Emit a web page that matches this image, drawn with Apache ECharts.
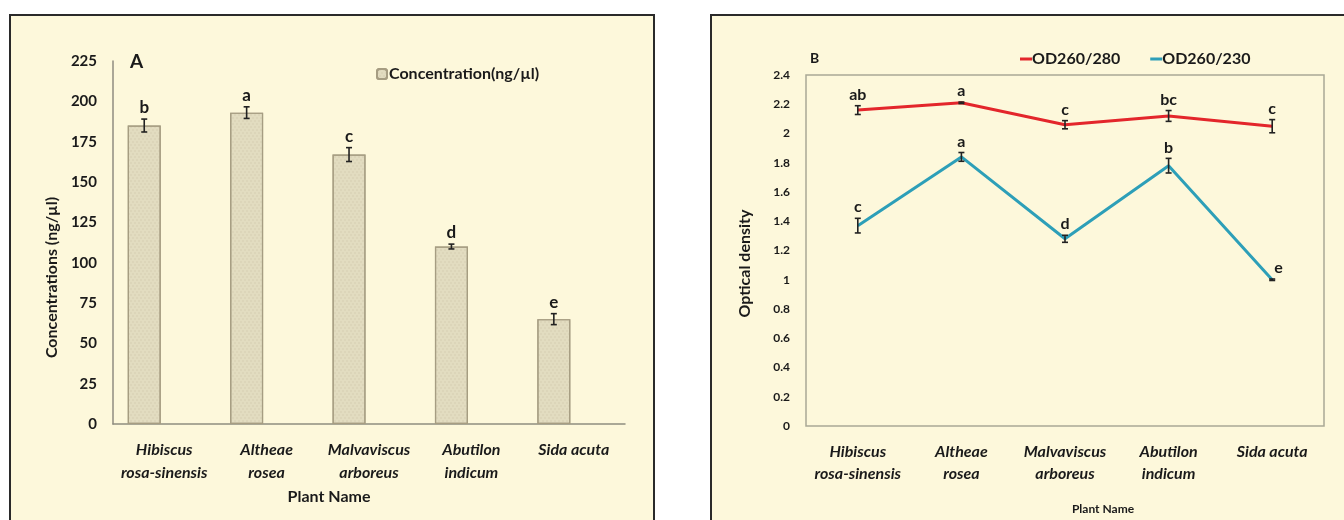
<!DOCTYPE html>
<html>
<head>
<meta charset="utf-8">
<script src="https://cdn.jsdelivr.net/npm/echarts@6/dist/echarts.min.js"></script>
<style>
html,body{margin:0;padding:0;background:#fff;}
#c{width:1344px;height:520px;}
</style>
</head>
<body>
<div id="c"></div>
<script>
// ---- data ----
const categories = ['Hibiscus\nrosa-sinensis', 'Altheae\nrosea', 'Malvaviscus\narboreus', 'Abutilon\nindicum', 'Sida acuta'];
const concentration = [185, 193, 167, 110, 65];
const concErr = [4, 3.6, 4.3, 1.5, 3.4];
const concLetters = ['b', 'a', 'c', 'd', 'e'];
const od280 = [2.16, 2.21, 2.06, 2.12, 2.05];
const od280Err = [0.03, 0.005, 0.028, 0.037, 0.045];
const od280Letters = ['ab', 'a', 'c', 'bc', 'c'];
const od230 = [1.37, 1.84, 1.28, 1.78, 1.0];
const od230Err = [0.05, 0.03, 0.024, 0.05, 0.005];
const od230Letters = ['c', 'a', 'd', 'b', 'e'];
const concTicks = { min: 0, max: 225, interval: 25 };
const odTicks = { min: 0, max: 2.4, interval: 0.2 };

const FONT = 'Lato, "Open Sans", sans-serif';
const CREAM = '#fdf8db';
const TXT = '#1a1a1a';

function errRender(vals, errs, letters, offsetFrac, sides, fontSize) {
  return function (params, api) {
    const i = params.dataIndex;
    const v = vals[i], e = errs[i];
    const band = api.size([1, 0])[0];
    const dx = band * offsetFrac;
    const top = api.coord([i, v + e]);
    const bot = api.coord([i, v - e]);
    const mid = api.coord([i, v]);
    const x = top[0] + dx;
    const cap = 3;
    const st = { stroke: '#222', lineWidth: 1.6 };
    const side = sides ? sides[i] : 'top';
    const text = side === 'right'
      ? { type: 'text', style: { x: x + 2, y: mid[1] - 4, text: letters[i], fill: TXT, font: 'bold ' + fontSize + 'px ' + FONT, align: 'left', verticalAlign: 'bottom' } }
      : { type: 'text', style: { x: x, y: top[1] - 3, text: letters[i], fill: TXT, font: 'bold ' + fontSize + 'px ' + FONT, align: 'center', verticalAlign: 'bottom' } };
    return {
      type: 'group',
      children: [
        { type: 'line', shape: { x1: x, y1: top[1], x2: x, y2: bot[1] }, style: st },
        { type: 'line', shape: { x1: x - cap, y1: top[1], x2: x + cap, y2: top[1] }, style: st },
        { type: 'line', shape: { x1: x - cap, y1: bot[1], x2: x + cap, y2: bot[1] }, style: st },
        text
      ]
    };
  };
}

const chart = echarts.init(document.getElementById('c'));
chart.setOption({
  backgroundColor: '#ffffff',
  animation: false,
  textStyle: { fontFamily: FONT },
  graphic: [
    { type: 'rect', z: -10, shape: { x: 10, y: 15, width: 644, height: 540 }, style: { fill: CREAM, stroke: '#2a2a2a', lineWidth: 2 } },
    { type: 'rect', z: -10, shape: { x: 711, y: 15, width: 700, height: 540 }, style: { fill: CREAM, stroke: '#2a2a2a', lineWidth: 2 } },
    { type: 'text', z: 10, left: 130, top: 52, style: { text: 'A', font: 'bold 19px ' + FONT, fill: TXT } },
    { type: 'text', z: 10, left: 810, top: 51, style: { text: 'B', font: 'bold 14px ' + FONT, fill: TXT } }
  ],
  legend: [
    {
      data: ['Concentration(ng/µl)'],
      left: 371, top: 61,
      itemWidth: 10, itemHeight: 10, itemGap: 4,
      textStyle: { fontFamily: FONT, fontWeight: 'bold', fontSize: 16, color: TXT, padding: [0, 0, 0, -3] }
    },
    {
      data: ['OD260/280', 'OD260/230'],
      left: 1015, top: 46,
      icon: 'rect', itemWidth: 12, itemHeight: 3, itemGap: 30,
      textStyle: { fontFamily: FONT, fontWeight: 'bold', fontSize: 16, color: TXT, padding: [0, 0, 0, -5] }
    }
  ],
  grid: [
    { left: 113, top: 61, width: 512, height: 363 },
    { left: 806, top: 75, width: 518, height: 356, show: true, borderColor: '#a9a896', borderWidth: 1.5, backgroundColor: 'transparent' }
  ],
  xAxis: [
    {
      gridIndex: 0, type: 'category', data: categories,
      axisLine: { lineStyle: { color: '#8f8d80', width: 1.5 } }, axisTick: { show: false },
      axisLabel: { interval: 0, margin: 14, fontFamily: FONT, fontWeight: 'bold', fontStyle: 'italic', fontSize: 16, lineHeight: 23, color: TXT },
      name: 'Plant Name', nameLocation: 'middle', nameGap: 64,
      nameTextStyle: { fontFamily: FONT, fontWeight: 'bold', fontSize: 16, color: TXT, padding: [0, 80, 0, 0] }
    },
    {
      gridIndex: 1, type: 'category', data: categories,
      axisLine: { show: false }, axisTick: { show: false },
      axisLabel: { interval: 0, margin: 15, fontFamily: FONT, fontWeight: 'bold', fontStyle: 'italic', fontSize: 16, lineHeight: 22, color: TXT },
      name: 'Plant Name', nameLocation: 'middle', nameGap: 77,
      nameTextStyle: { fontFamily: FONT, fontWeight: 'bold', fontSize: 12, color: TXT, padding: [0, 0, 0, 76] }
    }
  ],
  yAxis: [
    {
      gridIndex: 0, type: 'value', min: concTicks.min, max: concTicks.max, interval: concTicks.interval,
      splitLine: { show: false },
      axisLine: { show: true, lineStyle: { color: '#8f8d80', width: 1.5 } }, axisTick: { show: false },
      axisLabel: { margin: 16, fontFamily: FONT, fontWeight: 'bold', fontSize: 15, color: TXT },
      name: 'Concentrations (ng/µl)', nameLocation: 'middle', nameGap: 53,
      nameTextStyle: { fontFamily: FONT, fontWeight: 'bold', fontSize: 16, color: TXT, padding: [0, 70, 0, 0] }
    },
    {
      gridIndex: 1, type: 'value', min: odTicks.min, max: odTicks.max, interval: odTicks.interval,
      splitLine: { show: false },
      axisLine: { show: false }, axisTick: { show: false },
      axisLabel: { margin: 16, fontFamily: FONT, fontWeight: 'bold', fontSize: 12, color: TXT },
      name: 'Optical density', nameLocation: 'middle', nameGap: 53,
      nameTextStyle: { fontFamily: FONT, fontWeight: 'bold', fontSize: 16, color: TXT, padding: [0, 26, 0, 0] }
    }
  ],
  series: [
    {
      name: 'Concentration(ng/µl)', type: 'bar', xAxisIndex: 0, yAxisIndex: 0,
      data: concentration, barWidth: 33, barGap: '21%',
      itemStyle: {
        color: '#e2dcc0', borderColor: '#a69d82', borderWidth: 1.2,
        decal: { symbol: 'circle', symbolSize: 0.7, dashArrayX: [[2, 2], [0, 2, 2, 0]], dashArrayY: [2, 1], color: 'rgba(170,160,130,0.3)' }
      }
    },
    {
      name: 'spacer', type: 'bar', xAxisIndex: 0, yAxisIndex: 0,
      data: concentration.map(() => null), barWidth: 33, barGap: '21%', silent: true
    },
    {
      type: 'custom', xAxisIndex: 0, yAxisIndex: 0, z: 5, clip: false,
      data: concentration.map((v, i) => [i, v]),
      renderItem: errRender(concentration, concErr, concLetters, -0.195, null, 17)
    },
    {
      name: 'OD260/280', type: 'line', xAxisIndex: 1, yAxisIndex: 1,
      data: od280, showSymbol: false, color: '#e3262b',
      lineStyle: { color: '#e3262b', width: 3 }
    },
    {
      name: 'OD260/230', type: 'line', xAxisIndex: 1, yAxisIndex: 1,
      data: od230, showSymbol: false, color: '#2d9fb8',
      lineStyle: { color: '#2d9fb8', width: 3 }
    },
    {
      type: 'custom', xAxisIndex: 1, yAxisIndex: 1, z: 5, clip: false,
      data: od280.map((v, i) => [i, v]),
      renderItem: errRender(od280, od280Err, od280Letters, 0, null, 16)
    },
    {
      type: 'custom', xAxisIndex: 1, yAxisIndex: 1, z: 5, clip: false,
      data: od230.map((v, i) => [i, v]),
      renderItem: errRender(od230, od230Err, od230Letters, 0, ['top', 'top', 'top', 'top', 'right'], 16)
    }
  ]
});
</script>
</body>
</html>
